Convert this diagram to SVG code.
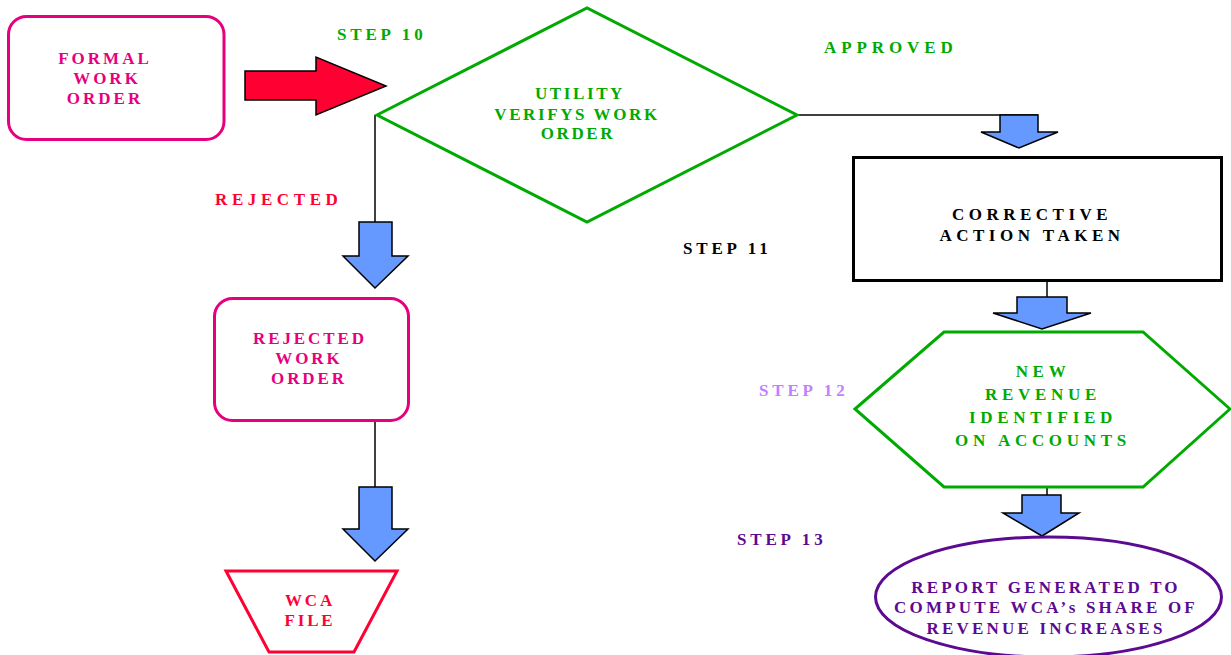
<svg xmlns="http://www.w3.org/2000/svg" width="1231" height="655" viewBox="0 0 1231 655">
<style>
text{font-family:"Liberation Serif","Times New Roman",serif;font-weight:bold;font-size:17px}
.mid{text-anchor:middle}
.pink{fill:#e6007e}
.red{fill:#ff0033}
.green{fill:#00aa00}
.black{fill:#000}
.purple{fill:#5b0a91}
.lilac{fill:#c080ff}
.blue{fill:#6699ff;stroke:#000;stroke-width:1.5;stroke-linejoin:miter}
.conn{stroke:#000;stroke-width:1.5;fill:none}
</style>
<rect width="1231" height="655" fill="#fff"/>
<g id="connectors">
<polygon points="245,71 316,71 316,57 386,86 316,115 316,100 245,100" fill="#ff0033" stroke="#000" stroke-width="1.5"/>
<path class="conn" d="M375,115 V226"/>
<polygon class="blue" points="359,222 392,222 392,256 408,256 375,288 343,256 359,256"/>
<path class="conn" d="M375,421 V490"/>
<polygon class="blue" points="359,487 392,487 392,529 408,529 375,561 343,529 359,529"/>
<path class="conn" d="M797,115 H1038"/>
<polygon class="blue" points="1000,115 1038,115 1038,132 1058,132 1019,148 981,132 1000,132"/>
<path class="conn" d="M1047,281 V300"/>
<polygon class="blue" points="1017,297 1067,297 1067,313 1091,313 1042,329 993,313 1017,313"/>
<path class="conn" d="M1047,487 V498"/>
<polygon class="blue" points="1022,495 1061,495 1061,513 1079,513 1042,536 1003,513 1022,513"/>
</g>
<g id="labels">
<text class="green" x="337" y="40" letter-spacing="3.8">STEP 10</text>
<text class="green" x="824" y="53" letter-spacing="4.9">APPROVED</text>
<text class="red" x="215" y="205" letter-spacing="4.6">REJECTED</text>
<text class="black" x="683" y="254" letter-spacing="3.8">STEP 11</text>
<text class="lilac" x="759" y="396" letter-spacing="3.8">STEP 12</text>
<text class="purple" x="737" y="545" letter-spacing="3.8">STEP 13</text>
</g>
<g id="formal">
<rect x="8.5" y="16.5" width="215.5" height="123" rx="18" fill="#fff" stroke="#e6007e" stroke-width="3"/>
<text class="pink mid" x="105" y="64" letter-spacing="3">FORMAL</text>
<text class="pink mid" x="107" y="84" letter-spacing="3">WORK</text>
<text class="pink mid" x="105" y="104" letter-spacing="3">ORDER</text>
</g>
<g id="verify">
<polygon points="377,115 587,8 797,115 587,222" fill="#fff" stroke="#00aa00" stroke-width="3"/>
<text class="green mid" x="580" y="99" letter-spacing="2.6">UTILITY</text>
<text class="green mid" x="577" y="120" letter-spacing="2.6">VERIFYS WORK</text>
<text class="green mid" x="578" y="139" letter-spacing="2.6">ORDER</text>
</g>
<g id="rejected">
<rect x="214.5" y="298.5" width="194" height="122" rx="18" fill="#fff" stroke="#e6007e" stroke-width="3"/>
<text class="pink mid" x="310" y="344" letter-spacing="2.9">REJECTED</text>
<text class="pink mid" x="309" y="364" letter-spacing="2.9">WORK</text>
<text class="pink mid" x="309" y="384" letter-spacing="2.9">ORDER</text>
</g>
<g id="wcafile">
<polygon points="226,571 397,571 354,652 269,652" fill="#fff" stroke="#ff0033" stroke-width="3"/>
<text class="red mid" x="310" y="606" letter-spacing="2.8">WCA</text>
<text class="red mid" x="310" y="626" letter-spacing="2.8">FILE</text>
</g>
<g id="corrective">
<rect x="853.5" y="157.5" width="368" height="123" fill="#fff" stroke="#000" stroke-width="3"/>
<text class="black mid" x="1032" y="220" letter-spacing="4.5">CORRECTIVE</text>
<text class="black mid" x="1032" y="241" letter-spacing="4.5">ACTION TAKEN</text>
</g>
<g id="newrevenue">
<polygon points="855,409 944,332 1143,332 1230,409 1143,487 944,487" fill="#fff" stroke="#00aa00" stroke-width="3"/>
<text class="green mid" x="1043" y="377" letter-spacing="4.7">NEW</text>
<text class="green mid" x="1043" y="400" letter-spacing="4.7">REVENUE</text>
<text class="green mid" x="1043" y="423" letter-spacing="4.7">IDENTIFIED</text>
<text class="green mid" x="1043" y="446" letter-spacing="4.7">ON ACCOUNTS</text>
</g>
<g id="report">
<ellipse cx="1048.5" cy="597" rx="173" ry="60" fill="#fff" stroke="#5b0a91" stroke-width="3"/>
<text class="purple mid" x="1046" y="593" letter-spacing="3.2">REPORT GENERATED TO</text>
<text class="purple mid" x="1046" y="613" letter-spacing="3.2">COMPUTE WCA’s SHARE OF</text>
<text class="purple mid" x="1046" y="634" letter-spacing="3.2">REVENUE INCREASES</text>
</g>
</svg>
